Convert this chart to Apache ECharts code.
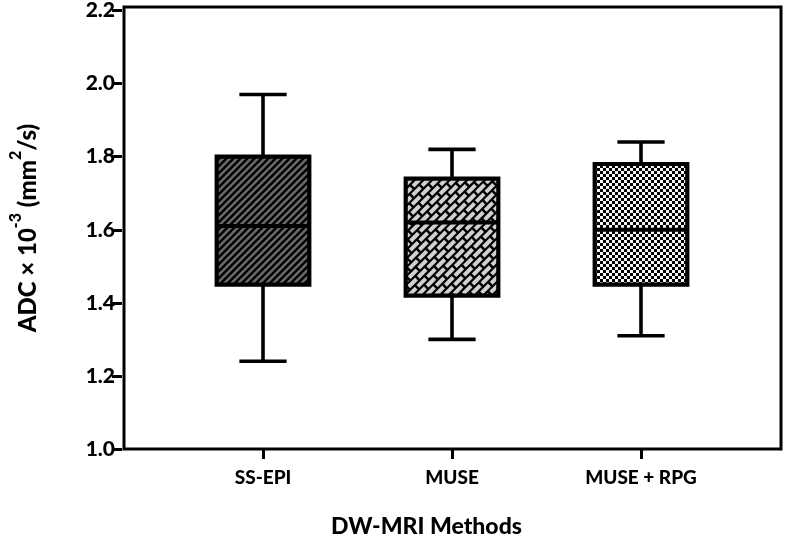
<!DOCTYPE html>
<html><head><meta charset="utf-8">
<script src="https://cdn.jsdelivr.net/npm/echarts@6/dist/echarts.min.js"></script>
<style>html,body{margin:0;padding:0;background:#fff}#c{width:788px;height:544px}</style>
</head><body><div id="c"></div>
<script>
// ---- data ----
const categories = ['SS-EPI', 'MUSE', 'MUSE + RPG'];
const mins    = [1.24, 1.30, 1.31];
const q1s     = [1.45, 1.42, 1.45];
const medians = [1.61, 1.62, 1.60];
const q3s     = [1.80, 1.74, 1.78];
const maxs    = [1.97, 1.82, 1.84];
const yMin = 1.0, yMax = 2.2, yStep = 0.2;

// ---- patterns ----
function hatchPattern() {
  const s = 7, c = document.createElement('canvas');
  c.width = s; c.height = s;
  const g = c.getContext('2d');
  g.fillStyle = '#6a6a6a'; g.fillRect(0, 0, s, s);
  g.strokeStyle = '#000'; g.lineWidth = 2.4;
  for (let k = -1; k <= 1; k++) {
    g.beginPath(); g.moveTo(-1 + s * k, s + 1); g.lineTo(s + 1 + s * k, -1); g.stroke();
  }
  return c;
}
function brickPattern() {
  const W = 800, H = 560, c = document.createElement('canvas');
  c.width = W; c.height = H;
  const g = c.getContext('2d');
  g.fillStyle = '#000'; g.fillRect(0, 0, W, H);
  g.save();
  g.rotate(-Math.PI / 4);
  g.fillStyle = '#d0d0d0';
  const rowH = 6.2, bh = 4.0, bl = 11, step = 13.5;
  let r = 0;
  for (let v = 0; v < 1000; v += rowH, r++) {
    const off = (r % 2) * step / 2;
    for (let u = -420 + off; u < 620; u += step) {
      g.fillRect(u, v, bl, bh);
    }
  }
  g.restore();
  return c;
}
function checkPattern() {
  const s = 6, c = document.createElement('canvas');
  c.width = s; c.height = s;
  const g = c.getContext('2d');
  g.fillStyle = '#000'; g.fillRect(0, 0, s, s);
  g.fillStyle = '#f4f4f4';
  g.fillRect(0, 0, 3, 3); g.fillRect(3, 3, 3, 3);
  return c;
}
const fills = [
  { image: hatchPattern(), repeat: 'repeat' },
  { image: brickPattern(), repeat: 'repeat' },
  { image: checkPattern(), repeat: 'repeat' }
];

const boxData = categories.map((c, i) => [i, mins[i], q1s[i], medians[i], q3s[i], maxs[i]]);

const FONT = 'Lato';
const W8 = 900;
const chart = echarts.init(document.getElementById('c'), null, { renderer: 'canvas' });
chart.setOption({
  animation: false,
  backgroundColor: '#fff',
  grid: [
    { left: 168.5, right: 52.5, top: 7, bottom: 95 },
    { left: 122, right: 7, top: 7, bottom: 95, show: true, borderColor: '#000', borderWidth: 3, backgroundColor: 'transparent', z: 0 }
  ],
  xAxis: [
    {
      type: 'category', gridIndex: 0, data: categories,
      axisLine: { show: false },
      axisTick: { show: true, alignWithLabel: true, length: 10, lineStyle: { color: '#000', width: 3 } },
      axisLabel: { color: '#000', fontFamily: FONT, fontWeight: W8, fontSize: 19, margin: 19 }
    },
    {
      type: 'value', gridIndex: 1, min: 0, max: 1,
      axisLine: { show: false }, axisTick: { show: false }, axisLabel: { show: false }, splitLine: { show: false },
      name: 'DW-MRI Methods', nameLocation: 'middle', nameGap: 66,
      nameTextStyle: { color: '#000', fontFamily: FONT, fontWeight: W8, fontSize: 23, padding: [0, 52, 0, 0] }
    }
  ],
  yAxis: [
    {
      type: 'value', gridIndex: 0, min: yMin, max: yMax, interval: yStep, offset: 46.5,
      axisLine: { show: false },
      axisTick: { show: true, length: 10, lineStyle: { color: '#000', width: 3 } },
      axisLabel: { color: '#000', fontFamily: FONT, fontWeight: W8, fontSize: 21, margin: 7, formatter: v => v.toFixed(1) },
      splitLine: { show: false }
    },
    {
      type: 'value', gridIndex: 1, min: 0, max: 1,
      axisLine: { show: false }, axisTick: { show: false }, axisLabel: { show: false }, splitLine: { show: false },
      name: '{n|ADC × 10}{s|-3}{n| (mm}{s|2}{n|/s)}', nameLocation: 'middle', nameGap: 84,
      nameTextStyle: {
        color: '#000',
        rich: {
          n: { fontFamily: FONT, fontWeight: W8, fontSize: 24, color: '#000', lineHeight: 32, verticalAlign: 'bottom' },
          s: { fontFamily: FONT, fontWeight: W8, fontSize: 16, color: '#000', lineHeight: 32, verticalAlign: 'top' }
        }
      }
    }
  ],
  series: [{
    type: 'custom',
    xAxisIndex: 0, yAxisIndex: 0,
    data: boxData,
    encode: { x: 0, y: [1, 2, 3, 4, 5] },
    z: 5,
    renderItem: function (params, api) {
      const x = api.value(0);
      const band = api.size([1, 0])[0];
      const bw = band * 0.49, cw = band * 0.25;
      const pLo = api.coord([x, api.value(1)]);
      const pQ1 = api.coord([x, api.value(2)]);
      const pMed = api.coord([x, api.value(3)]);
      const pQ3 = api.coord([x, api.value(4)]);
      const pHi = api.coord([x, api.value(5)]);
      const cx = pLo[0];
      const ls = { stroke: '#000', lineWidth: 3.6, lineCap: 'butt' };
      return {
        type: 'group',
        children: [
          { type: 'line', shape: { x1: cx, y1: pHi[1], x2: cx, y2: pQ3[1] }, style: ls },
          { type: 'line', shape: { x1: cx, y1: pQ1[1], x2: cx, y2: pLo[1] }, style: ls },
          { type: 'line', shape: { x1: cx - cw / 2, y1: pHi[1], x2: cx + cw / 2, y2: pHi[1] }, style: ls },
          { type: 'line', shape: { x1: cx - cw / 2, y1: pLo[1], x2: cx + cw / 2, y2: pLo[1] }, style: ls },
          { type: 'rect', shape: { x: cx - bw / 2, y: pQ3[1], width: bw, height: pQ1[1] - pQ3[1] },
            style: { fill: fills[params.dataIndex], stroke: '#000', lineWidth: 4.2 } },
          { type: 'line', shape: { x1: cx - bw / 2, y1: pMed[1], x2: cx + bw / 2, y2: pMed[1] }, style: { stroke: '#000', lineWidth: 4 } }
        ]
      };
    }
  }]
});
</script>
</body></html>
